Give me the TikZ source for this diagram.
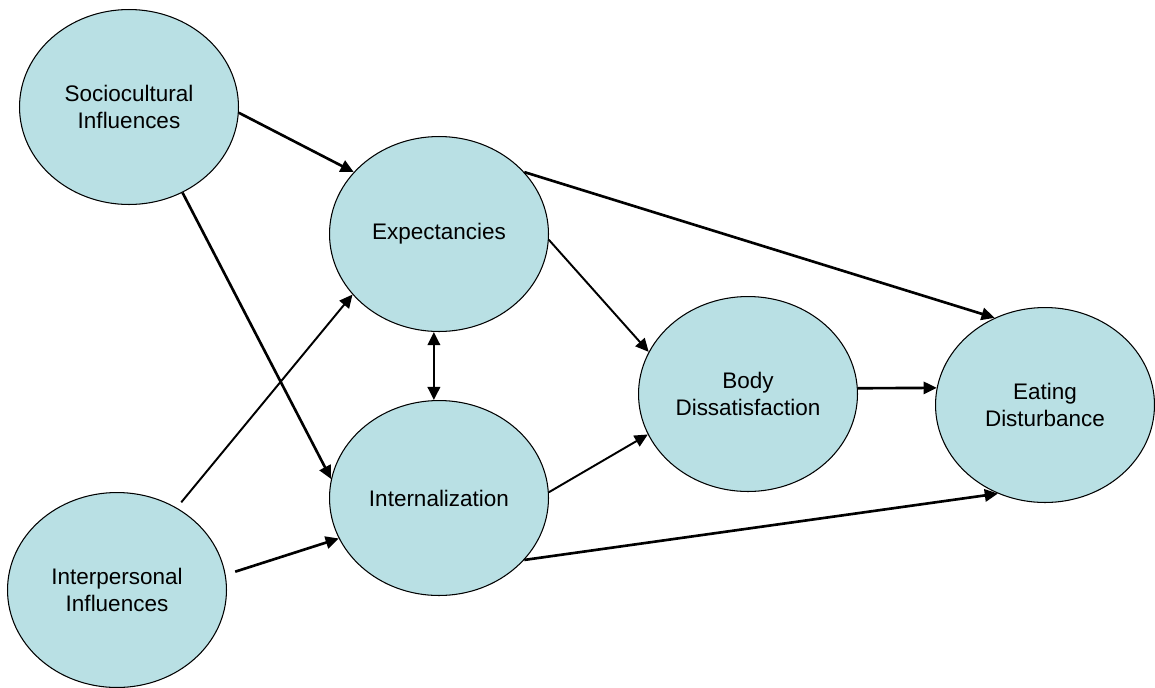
\documentclass[tikz,border=0pt]{standalone}
\usepackage{fontspec}
\setmainfont{Liberation Sans}
\usetikzlibrary{shapes.geometric,arrows.meta}
\definecolor{factorblue}{RGB}{185,224,228}

\begin{document}
\begin{tikzpicture}[x=0.02cm,y=-0.02cm,
	factor/.style={ellipse,draw,line width=0.6pt,fill=factorblue,inner sep=0pt,
		minimum width=4.38cm,minimum height=3.9cm,align=center,
		font=\fontsize{12.8}{15.5}\selectfont},
	link/.style={line width=1.5pt,-{Triangle[length=7.5pt,width=7pt]}},
	thinlink/.style={link,line width=1.1pt}]
			
			\useasboundingbox (0,0) rectangle (1155,687);
			
			\node[factor] (socio) at (129,107) {Sociocultural\\Influences};
			\node[factor] (interp) at (117,590) {Interpersonal\\Influences};
			\node[factor] (expect) at (439,234) {Expectancies};
			\node[factor] (intern) at (439,498) {Internalization};
			\node[factor] (body) at (748,394) {Body\\Dissatisfaction};
			\node[factor] (eating) at (1045,405) {Eating\\Disturbance};
			
			\draw[link] (socio.-3.6) -- (expect.144.5);
			\draw[link] (socio.-58.8) -- (intern.170.6);
			\draw[thinlink,shorten <=4pt] (interp.54.1) -- (expect.215.9);
			\draw[link,shorten <=5.7pt] (interp.8.1) -- (intern.202.2);
			\draw[link,{Triangle[length=7.5pt,width=7pt]}-{Triangle[length=7.5pt,width=7pt]}] (expect.-93) -- (intern.93);
			\draw[thinlink] (expect.-3.1) -- (body.157.6);
			\draw[link] (expect.36.5) -- (eating.120.5);
			\draw[thinlink] (intern.3.2) -- (body.202.9);
			\draw[link] (body.3.2) -- (eating.171.6);
			\draw[link] (intern.-36.9) -- (eating.242.1);
			
		\end{tikzpicture}
\end{document}
